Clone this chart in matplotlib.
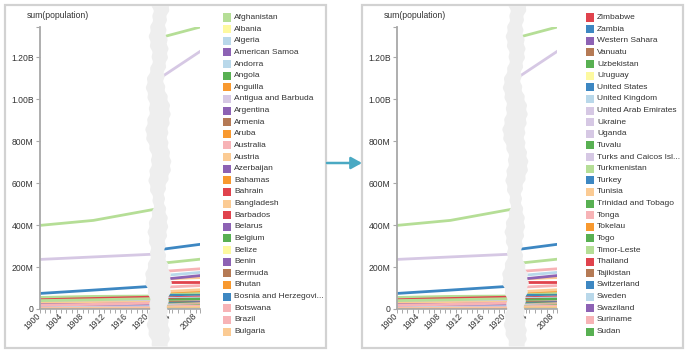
import numpy as np
import matplotlib.pyplot as plt
from matplotlib.patches import Rectangle, Polygon, FancyArrowPatch

plt.rcParams['font.family'] = ['Liberation Sans', 'DejaVu Sans']

W, H = 685, 354

# pastel palette
LGREEN = '#b5de96'
YELLOW = '#fdf9a0'
LBLUE = '#b9d8ea'
PURPLE = '#8d62b4'
GREEN = '#58b052'
ORANGE = '#f8992f'
LPURPLE = '#d6c8e4'
BROWN = '#b57a55'
PINK = '#f7b3b6'
LORANGE = '#fbcb94'
RED = '#e0434d'
BLUE = '#3d87c2'

AXIS = '#a8a8a8'
TXT = '#333333'

# legend (left: ascending, right: descending)
legend_left = ['Afghanistan', 'Albania', 'Algeria', 'American Samoa', 'Andorra', 'Angola',
               'Anguilla', 'Antigua and Barbuda', 'Argentina', 'Armenia', 'Aruba', 'Australia',
               'Austria', 'Azerbaijan', 'Bahamas', 'Bahrain', 'Bangladesh', 'Barbados',
               'Belarus', 'Belgium', 'Belize', 'Benin', 'Bermuda', 'Bhutan',
               'Bosnia and Herzegovi...', 'Botswana', 'Brazil', 'Bulgaria']
legend_left_colors = [LGREEN, YELLOW, LBLUE, PURPLE, LBLUE, GREEN,
                      ORANGE, LPURPLE, PURPLE, BROWN, ORANGE, PINK,
                      LORANGE, PURPLE, ORANGE, RED, LORANGE, RED,
                      PURPLE, GREEN, YELLOW, PURPLE, BROWN, ORANGE,
                      BLUE, PINK, PINK, LORANGE]
legend_right = ['Zimbabwe', 'Zambia', 'Western Sahara', 'Vanuatu', 'Uzbekistan', 'Uruguay',
                'United States', 'United Kingdom', 'United Arab Emirates', 'Ukraine', 'Uganda',
                'Tuvalu', 'Turks and Caicos Isl...', 'Turkmenistan', 'Turkey', 'Tunisia',
                'Trinidad and Tobago', 'Tonga', 'Tokelau', 'Togo', 'Timor-Leste', 'Thailand',
                'Tajikistan', 'Switzerland', 'Sweden', 'Swaziland', 'Suriname', 'Sudan']
legend_right_colors = [RED, BLUE, PURPLE, BROWN, GREEN, YELLOW,
                       BLUE, LBLUE, LPURPLE, LPURPLE, LPURPLE,
                       GREEN, LPURPLE, LGREEN, BLUE, LORANGE,
                       GREEN, PINK, ORANGE, GREEN, LGREEN, RED,
                       BROWN, BLUE, LBLUE, PURPLE, PINK, GREEN]

# population in millions
years_early = [1900, 1910, 1922]
years_late = [2002, 2009]
countries = ['China', 'India', 'United States', 'Indonesia', 'Brazil', 'Pakistan', 'Nigeria',
             'Bangladesh', 'Japan', 'Mexico', 'Philippines', 'Vietnam', 'Germany', 'Ethiopia',
             'Egypt', 'Turkey', 'Iran', 'Thailand', 'France', 'United Kingdom', 'Italy',
             'Congo', 'Myanmar', 'South Africa', 'Korea', 'Ukraine', 'Colombia', 'Spain',
             'Tanzania', 'Argentina', 'Kenya', 'Poland', 'Algeria', 'Canada', 'Uganda',
             'Morocco', 'Sudan', 'Peru', 'Uzbekistan', 'Afghanistan', 'Australia',
             'Netherlands', 'Chile', 'Belgium', 'Sweden', 'Austria', 'Bulgaria',
             'Switzerland', 'Tajikistan', 'Armenia', 'Bahamas']
colors = [LGREEN, LPURPLE, BLUE, LGREEN, PINK, PURPLE, LBLUE,
          LORANGE, RED, PINK, LORANGE, ORANGE, LGREEN, BLUE,
          GREEN, BLUE, YELLOW, RED, LPURPLE, LBLUE, GREEN,
          RED, GREEN, LORANGE, PURPLE, LPURPLE, BROWN, ORANGE,
          BLUE, PURPLE, GREEN, PINK, LBLUE, ORANGE, LPURPLE,
          BROWN, GREEN, PINK, GREEN, LGREEN, PINK,
          LORANGE, BROWN, GREEN, LBLUE, LORANGE, LORANGE,
          BLUE, BROWN, BROWN, ORANGE]
pop_1900 = [398, 236, 74, 40, 18, 20, 16, 28, 44, 14, 8, 12, 55, 11, 10, 12, 10, 7, 40, 38, 33,
            9, 11, 5, 10, 25, 4, 19, 5, 5, 3, 24, 5, 5, 2, 5, 3, 4, 3, 5, 4, 5, 3, 7, 5, 6, 4,
            3, 1, 1, 0.1]
pop_1910 = [422, 248, 90, 44, 22, 22, 18, 30, 50, 15, 9, 13, 60, 12, 12, 13, 10, 8, 41, 41, 35,
            10, 12, 6, 12, 28, 5, 20, 6, 7, 4, 25, 5, 7, 3, 5, 4, 4, 4, 5, 4, 6, 3, 7, 5, 7, 4,
            4, 1, 1, 0.1]
pop_1922 = [478, 262, 110, 50, 29, 25, 20, 32, 57, 15, 10, 15, 62, 13, 14, 14, 11, 10, 39, 43, 37,
            11, 13, 7, 14, 26, 6, 21, 7, 9, 4, 26, 6, 9, 3, 6, 5, 5, 4, 6, 5, 7, 4, 8, 6, 7, 5,
            4, 1, 1, 0.1]
pop_2002 = [1292, 1100, 283, 217, 178, 140, 158, 142, 127, 103, 82, 80, 82, 70, 70, 66, 66, 63,
            60, 59, 57, 52, 46, 45, 47, 48, 40, 41, 36, 37, 32, 38, 31, 31, 25, 29, 34, 26, 25,
            22, 19, 16, 15, 10, 9, 8, 8, 7, 6, 3, 0.3]
pop_2009 = [1345, 1232, 309, 238, 192, 160, 175, 150, 127, 112, 92, 87, 82, 80, 78, 71, 72, 66,
            63, 61, 59, 62, 49, 49, 49, 46, 44, 46, 43, 40, 39, 38, 35, 33, 31, 31, 41, 29, 27,
            28, 21, 16, 17, 11, 9, 8, 7, 8, 7, 3, 0.3]

y_ticks = [0, 200, 400, 600, 800, 1000, 1200]
y_labels = ['0', '200M', '400M', '600M', '800M', '1.00B', '1.20B']
y_top = 1343


def fx(px):
    return px / W


def fy(py):
    return 1 - py / H


fig = plt.figure(figsize=(W / 100, H / 100), dpi=100)


def style_x(ax):
    ax.tick_params(axis='x', which='both', length=2.6, width=0.7, color=AXIS,
                   labelsize=6.2, labelcolor=TXT, pad=1.5)
    for lab in ax.get_xticklabels():
        lab.set_rotation(45)
        lab.set_ha('right')
        lab.set_va('center')
        lab.set_rotation_mode('anchor')
    for s in ['top', 'right']:
        ax.spines[s].set_visible(False)
    ax.spines['bottom'].set_color(AXIS)
    ax.spines['bottom'].set_linewidth(1.2)
    ax.patch.set_facecolor('none')


def draw_panel(dx, names, cols):
    # frame
    fig.add_artist(Rectangle((fx(5 + dx), fy(348)), fx(321), 343 / H, transform=fig.transFigure,
                             fill=False, edgecolor='#d2d2d2', lw=1.6))

    ax1 = fig.add_axes([fx(39.5 + dx), fy(309), fx(130.5), 282 / H])
    ax2 = fig.add_axes([fx(160 + dx), fy(309), fx(40), 282 / H])

    for i in range(len(countries) - 1, -1, -1):
        ax1.plot(years_early, [pop_1900[i], pop_1910[i], pop_1922[i]], color=colors[i],
                 lw=2.0, solid_capstyle='butt')
        ax2.plot(years_late, [pop_2002[i], pop_2009[i]], color=colors[i],
                 lw=2.0, solid_capstyle='butt')

    ax1.set_xlim(1900, 1924.2)
    ax2.set_xlim(2002.0, 2008.7)
    for ax in (ax1, ax2):
        ax.set_ylim(0, y_top)

    ax1.set_yticks(y_ticks)
    ax1.set_yticklabels(y_labels)
    ax1.set_yticks([y_top], minor=True)
    ax1.tick_params(axis='y', which='both', length=3, width=0.8, color=AXIS,
                    labelsize=6.2, labelcolor=TXT, pad=1.2)
    ax1.spines['left'].set_color(AXIS)
    ax1.spines['left'].set_linewidth(1.3)
    ax1.set_xticks(list(range(1900, 1925, 4)))
    ax1.set_xticklabels([str(y) for y in range(1900, 1925, 4)])
    ax1.set_xticks(list(range(1900, 1925)), minor=True)
    style_x(ax1)

    ax2.set_yticks([])
    ax2.spines['left'].set_visible(False)
    ax2.set_xticks([2008, 2008.7])
    ax2.set_xticklabels(['2008', ''])
    ax2.set_xticks(list(range(2002, 2009)), minor=True)
    style_x(ax2)

    fig.text(fx(27 + dx), fy(16), 'sum(population)', fontsize=6.2, color=TXT,
             ha='left', va='center')

    # torn strip
    ys = np.arange(6, 347.5, 1.5)
    cx = 158.5 + dx
    left = (cx - 9 + 2.0 * np.sin(ys * 0.13) + 0.7 * np.sin(ys * 0.61 + 1.3)
            + 2.0 * np.sin(ys * 0.037 + 0.5))
    right = (cx + 9 + 2.0 * np.sin(ys * 0.11 + 2.1) + 0.7 * np.sin(ys * 0.67 + 0.4)
             + 2.0 * np.sin(ys * 0.041 + 2.0))
    pts = [(fx(a), fy(b)) for a, b in zip(left, ys)] + \
          [(fx(a), fy(b)) for a, b in zip(right[::-1], ys[::-1])]
    fig.add_artist(Polygon(pts, closed=True, transform=fig.transFigure,
                           facecolor='#eeeeee', edgecolor='none', zorder=10))

    # legend
    lx = 223 + dx if dx == 0 else 586
    for i, (nm, c) in enumerate(zip(names, cols)):
        yc = 17.5 + i * 11.63
        fig.add_artist(Rectangle((fx(lx), fy(yc + 4)), fx(8), 8 / H, transform=fig.transFigure,
                                 facecolor=c, edgecolor='none'))
        fig.text(fx(lx + 11), fy(yc), nm, fontsize=6, color=TXT, ha='left', va='center')


draw_panel(0, legend_left, legend_left_colors)
draw_panel(357, legend_right, legend_right_colors)

fig.add_artist(FancyArrowPatch((fx(327), fy(163)), (fx(362), fy(163)), transform=fig.transFigure,
                               arrowstyle='-|>,head_length=0.65,head_width=0.36',
                               mutation_scale=10, color='#4aa9c3', lw=1.8,
                               shrinkA=0, shrinkB=0))

fig.savefig('out.png', dpi=100)
